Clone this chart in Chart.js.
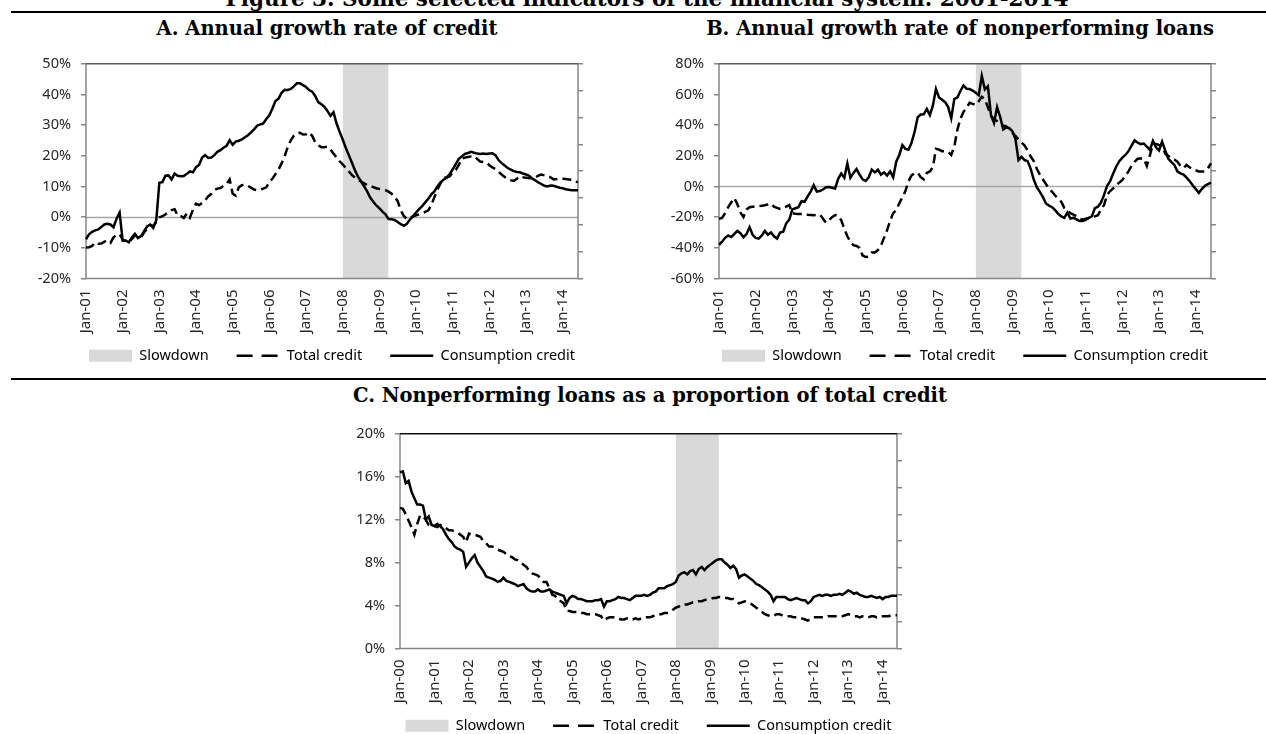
<!DOCTYPE html>
<html>
<head>
<meta charset="utf-8">
<script src="https://cdn.jsdelivr.net/npm/chart.js@4.4.1/dist/chart.umd.min.js"></script>
<style>
  html, body { margin: 0; padding: 0; background: #fff; }
  body { width: 1266px; height: 734px; position: relative; overflow: hidden; }
  .title { position: absolute; font-family: 'DejaVu Serif', serif; font-weight: bold; font-size: 19.5px;
           line-height: 19.5px; white-space: nowrap; text-align: center; color: #000; }
  .rule { position: absolute; left: 11px; right: 0; height: 2px; background: #000; }
  canvas { position: absolute; }
</style>
</head>
<body>
<div class="title" style="left:147px;width:1000px;top:-12px;font-size:21.5px;line-height:21.5px">Figure 3. Some selected indicators of the financial system: 2001-2014</div>
<div class="rule" style="top:11px"></div>
<div class="title" style="left:27px;width:600px;top:19px">A. Annual growth rate of credit</div>
<div class="title" style="left:660px;width:600px;top:19px">B. Annual growth rate of nonperforming loans</div>
<div class="rule" style="top:378px"></div>
<div class="title" style="left:350px;width:600px;top:386px">C. Nonperforming loans as a proportion of total credit</div>

<canvas id="chartA" width="616" height="350" style="left:24px;top:45px"></canvas>
<canvas id="chartB" width="610" height="350" style="left:660px;top:45px"></canvas>
<canvas id="chartC" width="697" height="350" style="left:300px;top:415px"></canvas>

<script>
// ---- categories ----
const monthNames = ['Jan', 'Feb', 'Mar', 'Apr', 'May', 'Jun', 'Jul', 'Aug', 'Sep', 'Oct', 'Nov', 'Dec'];
const yearsAB = ['01', '02', '03', '04', '05', '06', '07', '08', '09', '10', '11', '12', '13', '14'];
const yearsC = ['00', '01', '02', '03', '04', '05', '06', '07', '08', '09', '10', '11', '12', '13', '14'];
const slowdownSpan = ['Jan-08', 'Apr-09'];
const seriesNames = ['Slowdown', 'Total credit', 'Consumption credit'];

// ---- A. Annual growth rate of credit (%), monthly Jan-01 .. Jun-14 ----
const creditTotal = [
  -9.9, -9.8, -9.4, -8.2, -8.7, -8.6, -8.0, -7.7, -8.4, -6.6, -5.8, -5.6,
  -7.4, -7.8, -8.0, -7.2, -6.0, -6.2, -6.6, -5.0, -3.8, -2.6, -2.9, -1.6,
  -0.1, 0.3, 0.9, 1.6, 2.3, 2.6, 0.5, 0.4, -0.3, 1.2, -0.2, 2.4,
  4.4, 3.9, 4.6, 5.5, 6.8, 7.6, 8.8, 9.3, 9.5, 10.2, 10.8, 12.3,
  7.6, 7.0, 9.7, 10.4, 10.6, 10.2, 9.6, 9.0, 8.8, 9.0, 9.3, 9.7,
  11.5, 12.5, 14.0, 15.5, 17.5, 19.8, 22.8, 25.0, 26.5, 27.3, 27.5, 26.9,
  27.0, 27.6, 26.5, 24.4, 23.4, 22.8, 22.8, 23.0, 22.0, 20.7, 19.5, 18.2,
  17.2, 16.0, 14.9, 13.8, 12.8, 12.2, 11.6, 11.0, 10.5, 10.2, 9.8, 9.4,
  9.2, 9.1, 8.8, 8.3, 7.6, 6.6, 5.2, 2.2, 0.4, -0.7, -0.3, 0.2,
  0.6, 0.9, 1.2, 1.7, 2.2, 3.9, 6.5, 9.0, 11.0, 12.8, 13.0, 13.3,
  14.5, 15.4, 17.0, 19.1, 19.4, 19.6, 19.8, 19.9, 19.0, 18.1, 18.0, 17.8,
  16.9, 16.2, 15.7, 14.8, 13.9, 13.1, 12.3, 12.0, 11.8, 12.5, 13.3, 13.0,
  12.8, 12.7, 12.8, 12.9, 13.5, 13.9, 13.6, 13.4, 13.0, 12.3, 12.4, 12.6,
  12.5, 12.4, 12.3, 12.2, 11.6, 11.4
];
const creditConsumption = [
  -7.2, -5.6, -4.8, -4.3, -4.0, -3.2, -2.4, -2.2, -2.4, -3.3, -0.5, 1.5,
  -7.7, -7.6, -8.2, -6.6, -5.4, -6.8, -6.2, -4.6, -3.0, -2.4, -3.5, -1.0,
  11.2, 11.4, 13.5, 13.6, 12.3, 14.2, 13.5, 13.3, 13.4, 14.1, 14.9, 14.6,
  16.3, 17.0, 19.4, 20.2, 19.3, 19.4, 20.2, 21.3, 21.8, 22.6, 23.2, 25.1,
  23.6, 24.6, 24.9, 25.3, 26.0, 26.7, 27.6, 28.6, 29.8, 30.2, 30.5, 32.0,
  33.2, 35.4, 37.8, 38.6, 40.5, 41.5, 41.4, 41.8, 42.6, 43.6, 43.6, 43.0,
  42.4, 41.4, 40.9, 39.5, 37.5, 36.8, 36.0, 34.6, 33.0, 34.2, 30.5, 27.8,
  25.3, 22.6, 20.2, 17.8, 15.3, 13.2, 11.6, 10.0, 8.4, 6.4, 5.0, 3.8,
  2.9, 1.8, 0.9, -0.6, -0.7, -0.9, -1.6, -2.3, -2.8, -2.2, -0.8, 0.3,
  1.5, 2.6, 3.6, 4.8, 6.0, 7.4, 8.4, 10.0, 11.3, 12.2, 12.8, 14.0,
  15.6, 17.3, 19.0, 19.8, 20.6, 20.9, 21.3, 21.0, 20.7, 20.6, 20.7, 20.6,
  20.7, 20.8, 20.2, 18.6, 17.6, 16.8, 16.0, 15.5, 15.0, 14.7, 14.6, 14.2,
  13.9, 13.5, 12.6, 12.0, 11.3, 10.8, 10.2, 10.0, 10.3, 10.2, 9.9, 9.6,
  9.4, 9.1, 8.9, 8.8, 8.8, 8.8
];

// ---- B. Annual growth rate of nonperforming loans (%), monthly Jan-01 .. Jun-14 ----
const nplTotal = [
  -21.0, -20.5, -17.4, -13.5, -10.5, -7.5, -11.5, -17.0, -20.0, -15.0, -13.5, -13.2,
  -13.0, -12.8, -12.6, -12.2, -11.7, -11.1, -13.2, -14.0, -14.7, -14.0, -13.2, -12.1,
  -17.4, -17.8, -18.0, -18.0, -18.0, -18.4, -18.6, -18.8, -18.6, -18.4, -20.9, -23.7,
  -22.0, -20.0, -18.6, -19.0, -22.0, -27.5, -32.5, -36.0, -38.3, -38.8, -40.0, -45.0,
  -46.0, -45.7, -43.1, -43.1, -41.5, -38.5, -33.5, -28.5, -22.5, -17.4, -15.5, -11.0,
  -7.0, -3.0, 3.5, 7.2, 8.5, 9.0, 6.0, 4.6, 8.8, 9.8, 12.6, 24.5,
  24.0, 23.0, 23.0, 22.5, 20.5, 26.0, 37.0, 44.0, 48.6, 51.0, 54.5, 53.8,
  53.0, 55.5, 58.5, 57.0, 51.5, 46.0, 44.0, 42.5, 40.5, 39.8, 39.2, 37.5,
  35.0, 33.0, 30.5, 28.7, 26.6, 23.5, 19.5, 16.5, 11.5, 7.7, 4.5, 1.5,
  -1.5, -3.5, -5.9, -8.0, -10.0, -14.0, -16.0, -17.4, -18.4, -19.5, -21.0, -21.6,
  -21.0, -20.5, -19.8, -19.5, -18.8, -15.0, -12.1, -5.5, -3.0, -1.3, 1.0, 2.5,
  4.2, 7.0, 9.8, 13.5, 16.1, 18.0, 18.2, 18.2, 13.4, 20.3, 27.6, 27.6,
  27.0, 26.6, 21.4, 20.0, 18.2, 17.5, 16.1, 13.5, 11.9, 14.0, 12.5, 10.9,
  10.5, 9.8, 9.8, 9.8, 11.9, 15.1
];
const nplConsumption = [
  -38.0, -36.0, -33.5, -32.0, -33.0, -31.0, -29.0, -30.5, -33.1, -31.0, -26.5, -31.5,
  -33.5, -34.0, -32.0, -29.0, -31.5, -30.0, -32.5, -34.0, -30.0, -29.5, -24.0, -21.6,
  -15.0, -14.2, -13.5, -9.6, -10.0, -6.5, -3.4, 0.8, -3.4, -3.0, -2.0, -0.5,
  -0.4, -0.8, -1.3, 5.0, 8.4, 5.7, 15.0, 5.7, 8.8, 11.3, 7.7, 4.6,
  3.6, 6.0, 11.0, 9.2, 10.9, 7.7, 9.2, 7.1, 9.8, 6.0, 16.1, 20.5,
  27.0, 24.5, 23.9, 28.5, 35.5, 45.0, 46.9, 47.0, 50.5, 46.5, 52.8, 63.5,
  58.0, 56.5, 54.9, 51.7, 44.4, 57.0, 58.0, 62.2, 65.8, 63.7, 63.5, 62.5,
  61.0, 59.5, 72.0, 63.2, 65.3, 46.5, 41.3, 51.7, 45.4, 37.1, 38.5, 38.0,
  36.0, 31.0, 17.2, 19.3, 17.2, 16.5, 11.5, 4.5, -0.5, -3.5, -7.0, -11.1,
  -12.5, -13.5, -15.5, -17.8, -19.5, -20.5, -17.0, -20.9, -20.5, -21.5, -22.6, -22.6,
  -21.8, -20.5, -19.5, -14.2, -13.2, -10.5, -5.5, 0.4, 3.5, 8.5, 13.0, 16.5,
  18.8, 20.5, 23.0, 26.6, 30.0, 28.5, 27.6, 28.0, 26.0, 23.9, 29.7, 25.5,
  23.5, 29.3, 23.5, 18.2, 16.0, 14.0, 9.8, 8.5, 7.7, 5.7, 3.5, 0.8,
  -1.7, -4.2, -1.7, 0.4, 1.5, 2.5
];

// ---- C. Nonperforming loans as a proportion of total credit (%), monthly Jan-00 .. Jun-14 ----
const ratioTotal = [
  13.1, 13.0, 12.5, 11.9, 11.3, 10.6, 11.6, 12.4, 12.3, 12.0, 11.5, 11.5,
  11.4, 11.3, 11.5, 11.4, 11.2, 11.0, 11.0, 10.9, 10.8, 10.6, 10.4, 9.9,
  10.7, 10.6, 10.6, 10.5, 10.4, 10.0, 9.8, 9.5, 9.5, 9.4, 9.2, 9.1,
  9.0, 8.8, 8.6, 8.5, 8.3, 8.2, 8.0, 7.8, 7.6, 7.2, 7.0, 6.9,
  6.8, 6.5, 6.2, 6.2, 5.6, 5.0, 4.9, 4.5, 4.4, 4.2, 3.5, 3.5,
  3.4, 3.4, 3.4, 3.3, 3.3, 3.2, 3.2, 3.2, 3.2, 3.1, 3.0, 2.6,
  2.8, 2.9, 2.9, 2.9, 2.8, 2.7, 2.7, 2.8, 2.7, 2.7, 2.8, 2.7,
  2.8, 2.9, 2.9, 2.9, 3.0, 3.1, 3.2, 3.2, 3.3, 3.3, 3.4, 3.6,
  3.8, 3.9, 4.1, 4.1, 4.1, 4.2, 4.3, 4.3, 4.4, 4.4, 4.5, 4.6,
  4.6, 4.7, 4.7, 4.8, 4.8, 4.7, 4.7, 4.6, 4.6, 4.4, 4.2, 4.3,
  4.4, 4.3, 4.2, 4.0, 3.8, 3.6, 3.4, 3.2, 3.1, 3.0, 3.0, 3.2,
  3.2, 3.1, 3.0, 3.0, 3.0, 2.9, 2.9, 2.8, 2.8, 2.7, 2.6, 2.8,
  2.9, 2.9, 2.9, 2.9, 2.9, 3.0, 3.0, 3.0, 3.0, 3.0, 3.0, 3.1,
  3.2, 3.1, 3.0, 3.0, 2.9, 3.0, 3.0, 2.9, 3.0, 3.0, 2.9, 3.0,
  3.0, 3.0, 3.0, 3.1, 3.1, 3.1
];
const ratioConsumption = [
  16.4, 16.5, 15.4, 15.6, 14.6, 14.0, 13.4, 13.4, 13.3, 12.0, 12.3, 11.5,
  11.4, 11.6, 11.4, 11.1, 10.6, 10.2, 9.9, 9.5, 9.3, 9.2, 9.0, 7.6,
  8.0, 8.4, 8.7, 8.0, 7.6, 7.2, 6.7, 6.6, 6.5, 6.4, 6.2, 6.3,
  6.6, 6.3, 6.2, 6.1, 6.0, 5.8, 5.9, 6.0, 5.6, 5.4, 5.3, 5.3,
  5.5, 5.3, 5.3, 5.4, 5.5, 5.3, 5.2, 5.1, 5.0, 4.9, 4.2, 4.7,
  4.9, 4.8, 4.6, 4.6, 4.5, 4.4, 4.4, 4.4, 4.5, 4.5, 4.6, 3.9,
  4.4, 4.4, 4.5, 4.6, 4.8, 4.7, 4.7, 4.6, 4.5, 4.7, 4.9, 4.9,
  4.9, 5.0, 4.9, 5.0, 5.2, 5.3, 5.6, 5.6, 5.6, 5.8, 5.9, 6.0,
  6.2, 6.8, 7.0, 7.1, 6.9, 7.2, 7.3, 6.9, 7.4, 7.6, 7.3, 7.6,
  7.8, 8.0, 8.2, 8.3, 8.3, 8.0, 7.8, 7.5, 7.7, 7.4, 6.6, 6.8,
  6.9, 6.7, 6.5, 6.3, 6.0, 5.9, 5.7, 5.5, 5.3, 5.0, 4.4, 4.8,
  4.8, 4.8, 4.8, 4.6, 4.5, 4.6, 4.7, 4.6, 4.5, 4.5, 4.2, 4.4,
  4.8, 4.9, 5.0, 4.9, 5.0, 5.0, 4.9, 5.0, 5.0, 5.1, 5.0, 5.2,
  5.4, 5.3, 5.1, 5.2, 5.0, 4.9, 4.8, 4.8, 4.9, 4.8, 4.7, 4.8,
  4.6, 4.8, 4.8, 4.9, 4.9, 4.9
];

const axisGray = '#868686';
const textColor = '#262626';
Chart.defaults.font.family = 'Noto Sans';
Chart.defaults.font.size = 14.5;
Chart.defaults.color = textColor;

function monthLabels(years, count) {
  const out = [];
  years.forEach(y => monthNames.forEach(m => out.push(m + '-' + y)));
  return out.slice(0, count);
}

// plot frame + zero line, drawn over the shaded band but under the series;
// also lifts the legend up into the space beside the rotated labels
const framePlugin = {
  id: 'frame',
  afterLayout(chart, args, opts) {
    const lg = chart.legend;
    if (lg) { lg.top -= opts.legendLift; lg.bottom -= opts.legendLift; }
  },
  beforeDatasetsDraw(chart, args, opts) {
    const { ctx, chartArea: a } = chart;
    const y = chart.scales.y;
    ctx.save();
    if (y.min < 0) {
      const y0 = Math.round(y.getPixelForValue(0)) + 0.5;
      ctx.strokeStyle = '#a6a6a6';
      ctx.lineWidth = 1.5;
      ctx.beginPath(); ctx.moveTo(a.left, y0); ctx.lineTo(a.right, y0); ctx.stroke();
    }
    ctx.lineWidth = 1.5;
    ctx.strokeStyle = axisGray;
    ctx.beginPath();
    ctx.moveTo(a.left, a.top); ctx.lineTo(a.left, a.bottom); ctx.lineTo(a.right, a.bottom); ctx.lineTo(a.right, a.top);
    ctx.stroke();
    ctx.strokeStyle = opts.topColor;
    ctx.beginPath(); ctx.moveTo(a.left, a.top); ctx.lineTo(a.right, a.top); ctx.stroke();
    ctx.restore();
  }
};

function drawPanel(id, o) {
  const labels = monthLabels(o.years, o.total.length);
  const s = labels.indexOf(slowdownSpan[0]);
  const e = labels.indexOf(slowdownSpan[1]);
  const shade = labels.map((l, i) => (i >= s && i <= e ? o.max : null));

  return new Chart(document.getElementById(id), {
    type: 'line',
    data: {
      labels: labels,
      datasets: [
        { label: seriesNames[0], data: shade, fill: 'start', backgroundColor: '#d9d9d9',
          borderColor: 'rgba(0,0,0,0)', borderWidth: 0, pointRadius: 0, order: 2 },
        { label: seriesNames[1], data: o.total, borderColor: '#000', borderWidth: 2.5,
          borderDash: [9, 5], pointRadius: 0, fill: false, tension: 0, order: 1 },
        { label: seriesNames[2], data: o.consumption, borderColor: '#000', borderWidth: 2.5,
          pointRadius: 0, fill: false, tension: 0, order: 0 }
      ]
    },
    options: {
      responsive: false,
      animation: false,
      devicePixelRatio: 1,
      events: [],
      layout: { padding: { top: 12, left: 0, right: 0, bottom: 8 } },
      scales: {
        x: {
          type: 'category',
          offset: false,
          grid: { display: false },
          border: { display: false },
          ticks: {
            autoSkip: false, minRotation: 90, maxRotation: 90, padding: 3, color: textColor,
            font: { size: 15 },
            callback: (v, i) => (i % 12 === 0 ? labels[i] : '')
          },
          afterFit: sc => { sc.height = 56; }
        },
        y: {
          min: o.min, max: o.max,
          grid: { drawOnChartArea: false, tickLength: 5, tickColor: axisGray, lineWidth: 1.5 },
          border: { display: false },
          ticks: { stepSize: o.step, padding: 10, color: textColor, callback: v => v + '%' },
          afterFit: sc => { sc.width = o.side; }
        },
        y2: {
          position: 'right',
          min: 0, max: 8,
          grid: { drawOnChartArea: false, tickLength: 5, tickColor: axisGray, lineWidth: 1.5 },
          border: { display: false },
          ticks: { display: false, stepSize: 1 },
          afterFit: sc => { sc.width = o.side; }
        }
      },
      plugins: {
        filler: { drawTime: 'beforeDatasetsDraw' },
        tooltip: { enabled: false },
        frame: { topColor: o.topColor, legendLift: 14 },
        legend: {
          position: 'bottom',
          labels: {
            usePointStyle: true,
            pointStyleWidth: 43,
            boxHeight: 12,
            padding: 28,
            color: textColor,
            generateLabels: () => [
              { text: seriesNames[0], pointStyle: 'rect', fillStyle: '#d9d9d9', strokeStyle: '#d9d9d9', lineWidth: 0, datasetIndex: 0 },
              { text: seriesNames[1], pointStyle: 'line', strokeStyle: '#000', lineWidth: 2.5, lineDash: [16, 9], datasetIndex: 1 },
              { text: seriesNames[2], pointStyle: 'line', strokeStyle: '#000', lineWidth: 2.5, datasetIndex: 2 }
            ]
          }
        }
      }
    },
    plugins: [framePlugin]
  });
}

drawPanel('chartA', { years: yearsAB, total: creditTotal, consumption: creditConsumption,
  min: -20, max: 50, step: 10, side: 62, topColor: '#5a5a5a' });
drawPanel('chartB', { years: yearsAB, total: nplTotal, consumption: nplConsumption,
  min: -60, max: 80, step: 20, side: 59, topColor: '#5a5a5a' });
drawPanel('chartC', { years: yearsC, total: ratioTotal, consumption: ratioConsumption,
  min: 0, max: 20, step: 4, side: 100, topColor: '#111' });
</script>
</body>
</html>
